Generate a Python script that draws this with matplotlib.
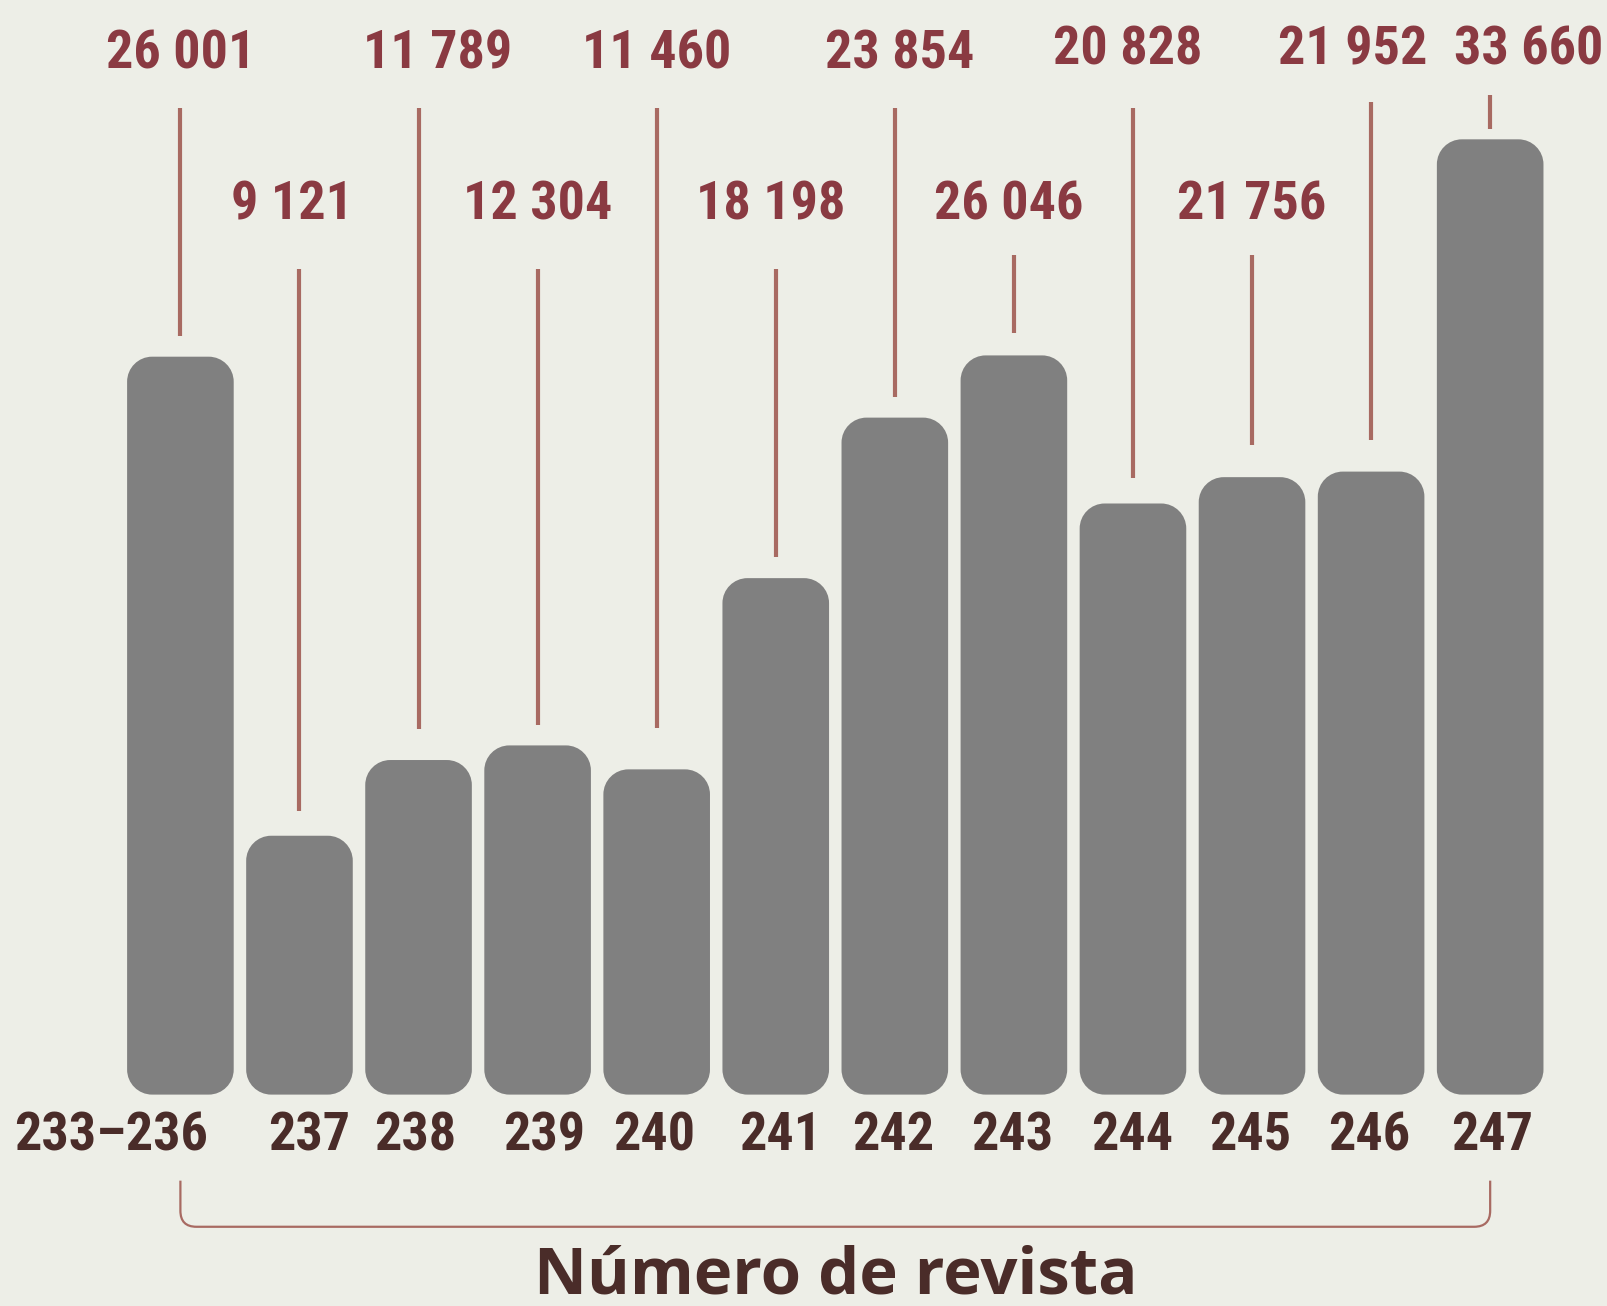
import matplotlib
matplotlib.use("Agg")
import matplotlib.pyplot as plt
from matplotlib.path import Path
from matplotlib.patches import PathPatch
from matplotlib import font_manager

# data
issues = ["233–236", "237", "238", "239", "240", "241", "242", "243", "244", "245", "246", "247"]
readers = [26001, 9121, 11789, 12304, 11460, 18198, 23854, 26046, 20828, 21756, 21952, 33660]
value_labels = ["26 001", "9 121", "11 789", "12 304", "11 460", "18 198",
                "23 854", "26 046", "20 828", "21 756", "21 952", "33 660"]
x_title = "Número de revista"

# layout (pixels in the 1607x1306 figure)
W, H = 1607, 1306
BASE = 1094.6          # baseline, px from top
PX_PER_UNIT = 0.02838  # px per reader
X0, PITCH = 180.4, 119.07
BAR_W = 106.6
RAD = 25

# label placement, in px of the shrunk reference (scaled below)
label_row = [0, 1, 0, 1, 0, 1, 0, 1, 0, 1, 0, 0]
label_dx = [0, -7, 19, 0, 0, -5, 5, -5, -5, 0, -18, 38]
label_dy = [0, 0, 0, 0, 0, 0, 0, 0, -4, 0, -4, -4]
lead_top = [105, 262, 105, 262, 105, 262, 105, 249, 105, 249, 100, 93]
lead_gap = [20, 24, 30, 20, 40, 21, 20, 22, 25, 31, 31, 10]
tick_dx = [-68, 9, -3, 6, -2, 4, -2, -2, -1, -2, -2, 2]
S = 1607 / 1568

BG = "#edeee7"
BAR = "#808080"
VAL = "#8a3a42"
LEAD = "#a86a62"
TICK = "#4a2c29"

names = {f.name for f in font_manager.fontManager.ttflist}
cond = None
for f in font_manager.fontManager.ttflist:
    if "Condensed" in f.fname and "Open" in f.fname:
        cond = f.fname
        break
if cond is None:
    for cand in ["Liberation Sans Narrow", "Roboto Condensed", "Open Sans"]:
        if cand in names:
            cond = cand
            break


def cfont(size):
    if cond and cond.endswith((".ttf", ".otf")):
        return font_manager.FontProperties(fname=cond, size=size, weight="bold")
    return font_manager.FontProperties(family=cond or "DejaVu Sans", size=size,
                                       weight="bold", stretch="condensed")


fig = plt.figure(figsize=(W / 100, H / 100), dpi=100)
fig.patch.set_facecolor(BG)
ax = fig.add_axes([0, 0, 1, 1])
ax.set_facecolor(BG)
ax.set_xlim(-X0 / PITCH, (W - X0) / PITCH)
ax.set_ylim(-(H - BASE) / PX_PER_UNIT, BASE / PX_PER_UNIT)
ax.axis("off")


def ypx(py):
    # px from top -> data y
    return (BASE - py) / PX_PER_UNIT


def xpx(px):
    return (px - X0) / PITCH


def rounded_bar(i, v):
    # rounded rectangle built in data units, with circular corners in px
    k = 0.5523
    rx, ry = RAD / PITCH, RAD / PX_PER_UNIT
    x0, x1 = i - BAR_W / PITCH / 2, i + BAR_W / PITCH / 2
    y0, y1 = 0, v
    verts = [
        (x0 + rx, y0), (x1 - rx, y0),
        (x1 - rx + k * rx, y0), (x1, y0 + ry - k * ry), (x1, y0 + ry),
        (x1, y1 - ry),
        (x1, y1 - ry + k * ry), (x1 - rx + k * rx, y1), (x1 - rx, y1),
        (x0 + rx, y1),
        (x0 + rx - k * rx, y1), (x0, y1 - ry + k * ry), (x0, y1 - ry),
        (x0, y0 + ry),
        (x0, y0 + ry - k * ry), (x0 + rx - k * rx, y0), (x0 + rx, y0),
        (x0 + rx, y0),
    ]
    codes = ([Path.MOVETO, Path.LINETO] + [Path.CURVE4] * 3 + [Path.LINETO]
             + [Path.CURVE4] * 3 + [Path.LINETO] + [Path.CURVE4] * 3
             + [Path.LINETO] + [Path.CURVE4] * 3 + [Path.CLOSEPOLY])
    return Path(verts, codes)


for i, v in enumerate(readers):
    ax.add_patch(PathPatch(rounded_bar(i, v), facecolor=BAR, edgecolor="none"))

row_y = [53, 200]
for i, v in enumerate(readers):
    row = label_row[i]
    ax.text(i + label_dx[i] * S / PITCH, ypx((row_y[row] + label_dy[i]) * S), value_labels[i],
            ha="center", va="center", color=VAL, fontproperties=cfont(39))
    bar_top_px = BASE - v * PX_PER_UNIT
    ax.plot([i, i], [ypx(lead_top[i] * S), ypx(bar_top_px - lead_gap[i] * S)],
            color=LEAD, lw=3, solid_capstyle="butt")

for i, lab in enumerate(issues):
    ax.text(i + tick_dx[i] * S / PITCH, ypx(1108 * S), lab,
            ha="center", va="center", color=TICK, fontproperties=cfont(39))

# bracket under the axis
yb0, yb1, rad = 1152 * S, 1197 * S, 16
xa, xb = 0, len(readers) - 1
rx = rad / PITCH
verts = [(xa, ypx(yb0)), (xa, ypx(yb1 - rad)), (xa, ypx(yb1)), (xa + rx, ypx(yb1)),
         (xb - rx, ypx(yb1)), (xb, ypx(yb1)), (xb, ypx(yb1 - rad)), (xb, ypx(yb0))]
codes = [Path.MOVETO, Path.LINETO, Path.CURVE3, Path.CURVE3,
         Path.LINETO, Path.CURVE3, Path.CURVE3, Path.LINETO]
ax.add_patch(PathPatch(Path(verts, codes), facecolor="none", edgecolor=LEAD, lw=1.6))

ax.text(xpx(836), ypx(1293), x_title, ha="center", va="baseline", color=TICK,
        fontsize=47, fontweight="bold", family=["Open Sans", "DejaVu Sans"])

fig.savefig("out.png", dpi=100, facecolor=BG)
